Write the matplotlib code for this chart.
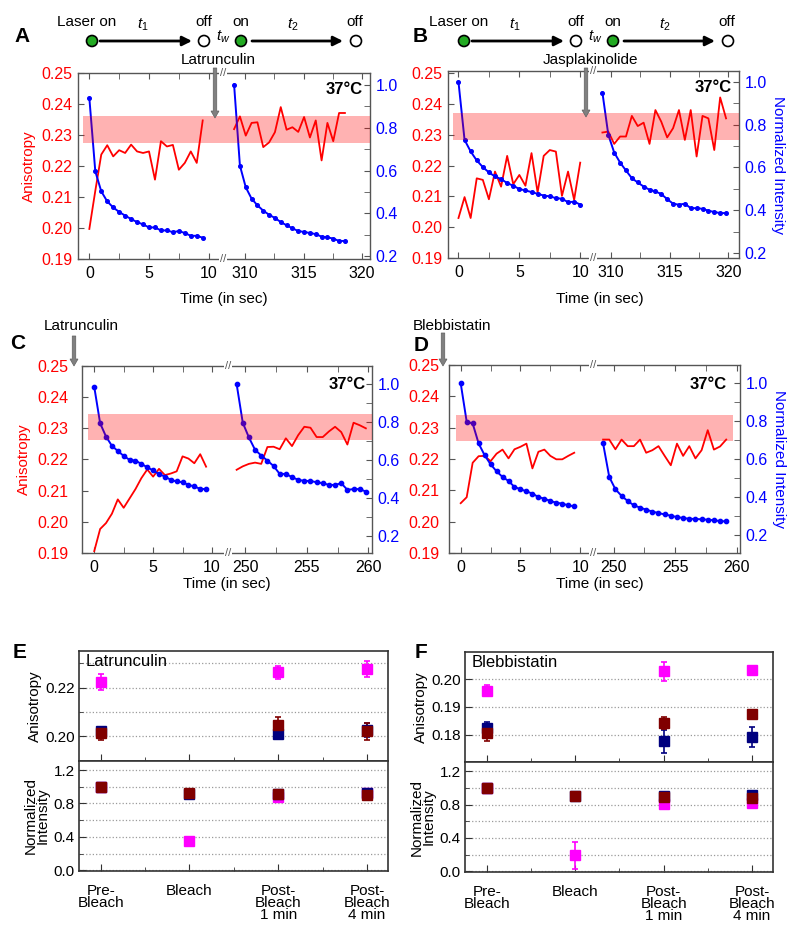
import numpy as np
import matplotlib
matplotlib.use('Agg')
import matplotlib.pyplot as plt
from matplotlib.patches import Rectangle, Circle
from matplotlib.transforms import blended_transform_factory
from matplotlib.ticker import MultipleLocator, FormatStrFormatter

plt.rcParams['font.family'] = ['Liberation Sans', 'DejaVu Sans']
plt.rcParams['mathtext.fontset'] = 'custom'
plt.rcParams['mathtext.it'] = 'Liberation Sans:italic'
plt.rcParams['mathtext.rm'] = 'Liberation Sans'

# ---- time courses (anisotropy = red, normalized intensity = blue) ----
A_t1 = np.arange(20) * 0.5
A_ani1 = [0.1997, 0.2120, 0.2237, 0.2267, 0.2231, 0.2251, 0.2242, 0.2269, 0.2247, 0.2242,
          0.2247, 0.2156, 0.2280, 0.2263, 0.2268, 0.2188, 0.2210, 0.2247, 0.2210, 0.2347]
A_int1 = [0.938, 0.596, 0.503, 0.456, 0.428, 0.407, 0.390, 0.374, 0.360, 0.349,
          0.335, 0.335, 0.321, 0.321, 0.313, 0.318, 0.309, 0.296, 0.296, 0.287]
A_t2 = 309.05 + np.arange(20) * 0.5
A_ani2 = [0.2319, 0.2360, 0.2298, 0.2339, 0.2341, 0.2261, 0.2276, 0.2309, 0.2390, 0.2317,
          0.2325, 0.2310, 0.2358, 0.2292, 0.2347, 0.2218, 0.2339, 0.2280, 0.2371, 0.2371]
A_int2 = [1.000, 0.623, 0.522, 0.469, 0.438, 0.413, 0.394, 0.379, 0.360, 0.345,
          0.331, 0.318, 0.314, 0.309, 0.304, 0.292, 0.289, 0.283, 0.272, 0.272]

B_t1 = np.arange(21) * 0.5
B_ani1 = [0.2030, 0.2098, 0.2030, 0.2159, 0.2154, 0.2091, 0.2181, 0.2132, 0.2232, 0.2140, 0.2170,
          0.2135, 0.2241, 0.2113, 0.2232, 0.2251, 0.2246, 0.2102, 0.2181, 0.2089, 0.2210]
B_int1 = [1.000, 0.729, 0.675, 0.633, 0.602, 0.577, 0.558, 0.546, 0.527, 0.515, 0.499,
          0.493, 0.485, 0.477, 0.469, 0.465, 0.457, 0.454, 0.438, 0.440, 0.427]
B_t2 = 309.3 + np.arange(22) * 0.5
B_ani2 = [0.2308, 0.2311, 0.2271, 0.2295, 0.2295, 0.2362, 0.2329, 0.2340, 0.2271, 0.2381, 0.2343,
          0.2292, 0.2322, 0.2381, 0.2284, 0.2381, 0.2230, 0.2362, 0.2354, 0.2251, 0.2422, 0.2354]
B_int2 = [0.950, 0.753, 0.670, 0.623, 0.586, 0.550, 0.530, 0.511, 0.496, 0.488, 0.476,
          0.452, 0.431, 0.426, 0.431, 0.410, 0.410, 0.407, 0.398, 0.392, 0.387, 0.387]

C_t1 = np.arange(20) * 0.5
C_ani1 = [0.1906, 0.1977, 0.1996, 0.2026, 0.2072, 0.2045, 0.2075, 0.2105, 0.2140, 0.2168,
          0.2145, 0.2170, 0.2150, 0.2155, 0.2162, 0.2210, 0.2203, 0.2188, 0.2217, 0.2177]
C_int1 = [0.985, 0.793, 0.723, 0.674, 0.647, 0.621, 0.600, 0.596, 0.579, 0.561,
          0.544, 0.525, 0.512, 0.495, 0.486, 0.482, 0.468, 0.460, 0.447, 0.446]
C_t2 = 249.3 + np.arange(22) * 0.5
C_ani2 = [0.2167, 0.2178, 0.2186, 0.2190, 0.2186, 0.2240, 0.2241, 0.2233, 0.2268, 0.2243, 0.2278,
          0.2305, 0.2302, 0.2272, 0.2272, 0.2290, 0.2305, 0.2288, 0.2248, 0.2318, 0.2310, 0.2300]
C_int2 = [1.000, 0.796, 0.718, 0.653, 0.623, 0.596, 0.568, 0.526, 0.526, 0.509, 0.495,
          0.489, 0.489, 0.482, 0.477, 0.468, 0.468, 0.477, 0.442, 0.446, 0.446, 0.433]

D_t1 = np.arange(20) * 0.5
D_ani1 = [0.2059, 0.2078, 0.2188, 0.2209, 0.2210, 0.2193, 0.2217, 0.2230, 0.2202, 0.2231,
          0.2239, 0.2249, 0.2170, 0.2223, 0.2230, 0.2210, 0.2199, 0.2199, 0.2210, 0.2220]
D_int1 = [1.000, 0.797, 0.788, 0.682, 0.620, 0.572, 0.535, 0.505, 0.484, 0.452,
          0.440, 0.429, 0.417, 0.399, 0.390, 0.378, 0.369, 0.364, 0.355, 0.350]
D_t2 = 249.15 + np.arange(21) * 0.5
D_ani2 = [0.2262, 0.2262, 0.2231, 0.2262, 0.2241, 0.2241, 0.2262, 0.2220, 0.2228, 0.2241, 0.2210,
          0.2180, 0.2249, 0.2210, 0.2241, 0.2202, 0.2228, 0.2292, 0.2230, 0.2240, 0.2262]
D_int2 = [0.682, 0.505, 0.440, 0.405, 0.378, 0.355, 0.343, 0.332, 0.322, 0.314, 0.307,
          0.300, 0.293, 0.288, 0.284, 0.283, 0.281, 0.279, 0.276, 0.272, 0.270]

# pre-treatment anisotropy range (shaded band)
A_band = (0.2274, 0.2362)
B_band = (0.2284, 0.2370)
C_band = (0.2261, 0.2346)
D_band = (0.2257, 0.2342)

# ---- summary panels E / F ----
stages = ['Pre-\nBleach', 'Bleach', 'Post-\nBleach\n1 min', 'Post-\nBleach\n4 min']
nan = np.nan
E_ani_mag = [0.2223, nan, 0.2263, 0.2277]; E_ani_mag_err = [0.0033, nan, 0.0026, 0.0034]
E_ani_nav = [0.2022, nan, 0.2008, 0.2027]; E_ani_nav_err = [0.0015, nan, 0.0015, 0.0030]
E_ani_red = [0.2012, nan, 0.2048, 0.2022]; E_ani_red_err = [0.0025, nan, 0.0030, 0.0035]
E_int_mag = [1.00, 0.35, 0.88, 0.93]; E_int_mag_err = [0.02, 0.05, 0.03, 0.03]
E_int_nav = [1.00, 0.92, 0.92, 0.93]; E_int_nav_err = [0.02, 0.03, 0.04, 0.04]
E_int_red = [1.00, 0.93, 0.91, 0.90]; E_int_red_err = [0.02, 0.03, 0.04, 0.04]

F_ani_mag = [0.1958, nan, 0.2028, 0.2032]; F_ani_mag_err = [0.0020, nan, 0.0035, 0.0010]
F_ani_nav = [0.1822, nan, 0.1775, 0.1792]; F_ani_nav_err = [0.0025, nan, 0.0040, 0.0037]
F_ani_red = [0.1807, nan, 0.1842, 0.1874]; F_ani_red_err = [0.0030, nan, 0.0022, 0.0015]
F_int_mag = [1.00, 0.19, 0.81, 0.82]; F_int_mag_err = [0.02, 0.165, 0.03, 0.03]
F_int_nav = [1.00, 0.90, 0.90, 0.91]; F_int_nav_err = [0.02, 0.03, 0.04, 0.04]
F_int_red = [1.00, 0.90, 0.89, 0.88]; F_int_red_err = [0.02, 0.03, 0.04, 0.04]

MAG, NAV, DRED = '#ff00ff', '#00007f', '#800000'
SPINE = '#555555'
W, H = 800, 930

fig = plt.figure(figsize=(8, 9.3), dpi=100)


def frac(left, top, right, bottom):
    return [left / W, 1 - bottom / H, (right - left) / W, (bottom - top) / H]


def time_panel(box, brk, xl, xr, t1, a1, i1, t2, a2, i2, ani_lim, int_lim, band, band_px,
               ms, lpad, left_label=False, right_label=False):
    left, top, right, bottom = box
    axL = fig.add_axes(frac(left, top, brk, bottom))
    axR = fig.add_axes(frac(brk, top, right, bottom))
    axL2 = axL.twinx()
    axR2 = axR.twinx()
    axL.plot(t1, a1, color='red', lw=1.3)
    axR.plot(t2, a2, color='red', lw=1.3)
    axL2.plot(t1, i1, color='blue', lw=1.4, marker='o', ms=ms)
    axR2.plot(t2, i2, color='blue', lw=1.4, marker='o', ms=ms)

    # shaded band on top of the lines
    f0 = (band_px[0] - left) / (brk - left)
    f1 = (band_px[1] - brk) / (right - brk)
    axL2.add_patch(Rectangle((f0, band[0]), 1 - f0, band[1] - band[0],
                             transform=blended_transform_factory(axL2.transAxes, axL.transData),
                             facecolor='red', alpha=0.3, lw=0, zorder=5))
    axR2.add_patch(Rectangle((0, band[0]), f1, band[1] - band[0],
                             transform=blended_transform_factory(axR2.transAxes, axR.transData),
                             facecolor='red', alpha=0.3, lw=0, zorder=5))

    for ax in (axL, axR, axL2, axR2):
        for s in ax.spines.values():
            s.set_color(SPINE)
            s.set_linewidth(1.0)
    axL.spines['right'].set_visible(False)
    axR.spines['left'].set_visible(False)
    for s in axL2.spines.values():
        s.set_visible(False)
    for s in axR2.spines.values():
        s.set_visible(False)

    axL.set_xlim(xl)
    axR.set_xlim(xr)
    for ax in (axL, axR):
        ax.set_ylim(ani_lim)
        ax.xaxis.set_major_locator(MultipleLocator(5))
        ax.xaxis.set_minor_locator(MultipleLocator(2.5))
        ax.tick_params(axis='x', which='both', direction='in', top=True, length=4,
                       color=SPINE, labelsize=11.5, pad=5)
    for ax in (axL2, axR2):
        ax.set_ylim(int_lim)
        ax.yaxis.set_major_locator(MultipleLocator(0.2))
        ax.yaxis.set_minor_locator(MultipleLocator(0.1))
    axL.yaxis.set_major_locator(MultipleLocator(0.01))
    axL.yaxis.set_major_formatter(FormatStrFormatter('%.2f'))
    axL.tick_params(axis='y', direction='in', length=4, color=SPINE, labelcolor='red',
                    labelsize=11.5, pad=lpad)
    axR.tick_params(axis='y', left=False, labelleft=False)
    axL2.tick_params(axis='y', which='both', right=False, labelright=False)
    axR2.yaxis.set_major_formatter(FormatStrFormatter('%.1f'))
    axR2.tick_params(axis='y', which='both', direction='in', length=4, color=SPINE,
                     labelcolor='blue', labelsize=11.5, pad=4)
    if left_label:
        axL.set_ylabel('Anisotropy', color='red', fontsize=11, labelpad=4)
    if right_label:
        axR2.set_ylabel('Normalized Intensity', color='blue', fontsize=11,
                        rotation=270, va='bottom', labelpad=3)
    return axL, axR


def summary_panel(box, mid, ani_series, int_series, ani_lim, ani_major, ani_minor, title):
    left, top, right, bottom = box
    axT = fig.add_axes(frac(left, top, right, mid))
    axB = fig.add_axes(frac(left, mid, right, bottom))
    pos = np.arange(len(stages))
    for ax, series in ((axT, ani_series), (axB, int_series)):
        for vals, errs, col in series:
            ax.errorbar(pos, vals, yerr=errs, fmt='s', color=col, ms=6.5, capsize=2.5,
                        elinewidth=1.2, capthick=1.2, zorder=3)
        ax.set_xlim(-0.245, 3.237)
        ax.set_xticks(pos)
        ax.xaxis.set_minor_locator(MultipleLocator(0.5))
        ax.grid(axis='y', which='both', ls=':', color='#9a9a9a', lw=0.9)
        ax.tick_params(which='both', direction='in', color='#333333', labelsize=11, pad=3)
        ax.tick_params(which='major', length=5)
        ax.tick_params(which='minor', length=3)
        for s in ax.spines.values():
            s.set_color('#333333')
            s.set_linewidth(1.2)
    axT.set_ylim(ani_lim)
    axT.yaxis.set_major_locator(MultipleLocator(ani_major))
    axT.yaxis.set_minor_locator(MultipleLocator(ani_minor))
    axT.yaxis.set_major_formatter(FormatStrFormatter('%.2f'))
    axT.tick_params(axis='x', labelbottom=False)
    axB.set_ylim(-0.01, 1.31)
    axB.yaxis.set_major_locator(MultipleLocator(0.4))
    axB.yaxis.set_minor_locator(MultipleLocator(0.2))
    axB.yaxis.set_major_formatter(FormatStrFormatter('%.1f'))
    axB.set_xticklabels(stages, fontsize=11, linespacing=0.85, va='top')
    axB.tick_params(axis='x', pad=9)
    axT.set_ylabel('Anisotropy', fontsize=11, labelpad=2)
    axB.set_ylabel('Normalized\nIntensity', fontsize=11, linespacing=0.8, labelpad=3)
    axT.text(0.02, 0.97, title, transform=axT.transAxes, fontsize=12, ha='left', va='top')
    return axT, axB


time_panel((78, 73, 370, 259), 223, (-0.95, 11.2), (308.1, 320.7),
           A_t1, A_ani1, A_int1, A_t2, A_ani2, A_int2,
           (0.19, 0.25), (0.188, 1.054), A_band, (83, 370), 2.6, 4, left_label=True)
time_panel((448, 71, 739, 258), 593, (-0.86, 11.05), (308.5, 320.9),
           B_t1, B_ani1, B_int1, B_t2, B_ani2, B_int2,
           (0.19, 0.2508), (0.177, 1.051), B_band, (453, 739), 2.6, 4, right_label=True)
time_panel((82, 366, 372, 553), 228, (-1.04, 11.36), (248.6, 260.3),
           C_t1, C_ani1, C_int1, C_t2, C_ani2, C_int2,
           (0.19, 0.25), (0.109, 1.095), C_band, (88, 372), 3.1, 10, left_label=True)
time_panel((449, 365, 740, 553), 593, (-0.98, 11.07), (248.33, 260.27),
           D_t1, D_ani1, D_int1, D_t2, D_ani2, D_int2,
           (0.19, 0.25), (0.103, 1.097), D_band, (456, 733), 3.1, 7, right_label=True)

summary_panel((79, 651, 388, 871), 761,
              [(E_ani_mag, E_ani_mag_err, MAG), (E_ani_nav, E_ani_nav_err, NAV),
               (E_ani_red, E_ani_red_err, DRED)],
              [(E_int_mag, E_int_mag_err, MAG), (E_int_nav, E_int_nav_err, NAV),
               (E_int_red, E_int_red_err, DRED)],
              (0.1899, 0.2351), 0.02, 0.01, 'Latrunculin')
summary_panel((465, 652, 773, 872), 762,
              [(F_ani_mag, F_ani_mag_err, MAG), (F_ani_nav, F_ani_nav_err, NAV),
               (F_ani_red, F_ani_red_err, DRED)],
              [(F_int_mag, F_int_mag_err, MAG), (F_int_nav, F_int_nav_err, NAV),
               (F_int_red, F_int_red_err, DRED)],
              (0.1701, 0.2098), 0.01, 0.01, 'Blebbistatin')

# ---- overlay for annotations, in pixel coordinates ----
ov = fig.add_axes([0, 0, 1, 1])
ov.set_xlim(0, W)
ov.set_ylim(H, 0)
ov.axis('off')

for txt, x, y in [('A', 22, 37), ('B', 420, 37), ('C', 18, 343), ('D', 421, 345),
                  ('E', 20, 652), ('F', 421, 652)]:
    ov.text(x, y, txt, fontsize=15, fontweight='bold', ha='center', va='center')

for x, y in [(344, 90), (713, 88), (347, 384), (708, 384)]:
    ov.text(x, y, '37°C', fontsize=12, fontweight='bold', ha='center', va='center')

for x, y in [(224, 299), (600, 299), (227, 584), (600, 584)]:
    ov.text(x, y, 'Time (in sec)', fontsize=11, ha='center', va='center')

# broken-axis marks
for x, y in [(223, 73), (223, 259), (593, 71), (593, 258), (228, 366), (228, 553),
             (593, 365), (593, 553)]:
    ov.text(x, y, '//', fontsize=8, color=SPINE, ha='center', va='center',
            bbox=dict(facecolor='white', edgecolor='none', pad=0.5))

# laser on/off schematic
for dx in (0, 372):
    for txt, x in [('Laser on', 87), ('off', 204), ('on', 241), ('off', 355)]:
        ov.text(x + dx, 22, txt, fontsize=11, ha='center', va='center')
    for txt, x, y in [('$t_1$', 143, 25), ('$t_w$', 223, 37), ('$t_2$', 293, 25)]:
        ov.text(x + dx, y, txt, fontsize=11, ha='center', va='center')
    for x, fc in [(92, '#22aa22'), (204, 'white'), (241, '#22aa22'), (356, 'white')]:
        ov.add_patch(Circle((x + dx, 41), 5.5, facecolor=fc, edgecolor='black', lw=1.2))
    for x0, x1 in [(100, 192), (252, 343)]:
        ov.annotate('', xy=(x1 + dx, 41), xytext=(x0 + dx, 41),
                    arrowprops=dict(arrowstyle='-|>', color='black', lw=2,
                                    mutation_scale=14, shrinkA=0, shrinkB=0))

# drug-addition arrows
for txt, tx, ty, ax_, y0, y1 in [('Latrunculin', 218, 60, 215, 68, 118),
                                 ('Jasplakinolide', 590, 60, 586, 68, 117),
                                 ('Latrunculin', 81, 326, 74, 336, 366),
                                 ('Blebbistatin', 452, 326, 443, 333, 366)]:
    ov.text(tx, ty, txt, fontsize=11, ha='center', va='center')
    ov.arrow(ax_, y0, 0, y1 - y0, width=3.5, head_width=8, head_length=7,
             length_includes_head=True, facecolor='#808080', edgecolor='#606060', lw=0.5)

fig.savefig('out.png', dpi=100)
